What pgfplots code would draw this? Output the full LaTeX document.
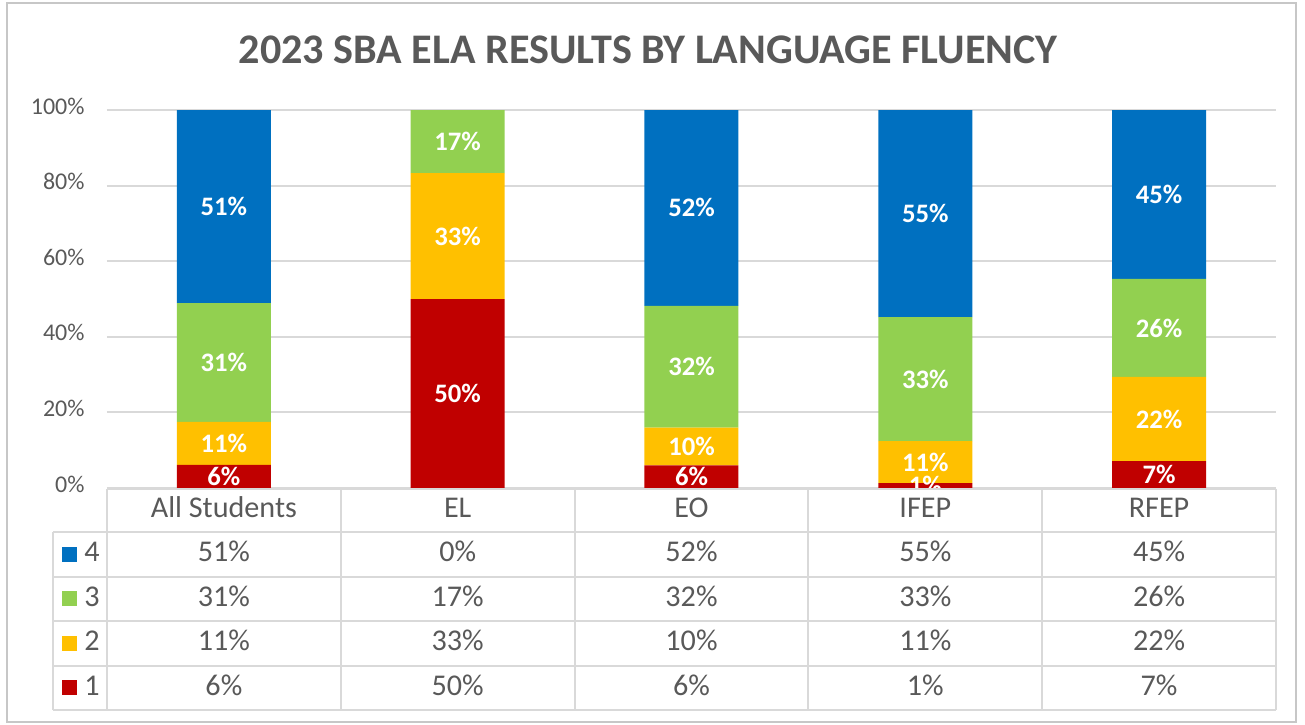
\documentclass[border=0pt]{standalone}
\usepackage{pgfplots}
\pgfplotsset{compat=1.18}
\usepackage{pgfplotstable}
\usepackage{fontspec}
\setmainfont{Carlito}
\definecolor{cBlue}{HTML}{0070C0}
\definecolor{cGreen}{HTML}{92D050}
\definecolor{cYellow}{HTML}{FFC000}
\definecolor{cRed}{HTML}{C00000}
\definecolor{txt}{HTML}{595959}
\definecolor{gridc}{HTML}{D9D9D9}

\pgfplotstableread{
x s1 s2 s3 s4
0 6.1 11.4 31.4 51.1
1 50 33.3 16.7 0
2 6 10 32.2 51.8
3 1.3 11.1 32.8 54.8
4 7.1 22.3 25.9 44.7
}\data

\begin{document}
\begin{tikzpicture}[x=0.375pt,y=-0.375pt]
\path (0,0) rectangle (1305,724);
\draw[gridc!80!gray, line width=0.75pt] (6.5,3) rectangle (1296,721.5);
\node[font=\fontsize{15.8}{18}\selectfont\bfseries, text=txt] at (648,50) {2023 SBA ELA RESULTS BY LANGUAGE FLUENCY};
\begin{axis}[
  at={(40.125pt,-183pt)}, anchor=south west,
  scale only axis, width=438.375pt, height=141.75pt,
  ybar stacked, bar width=35.25pt,
  xmin=-0.5, xmax=4.5, ymin=0, ymax=100,
  xtick={0,1,2,3,4}, xticklabels={All Students,EL,EO,IFEP,RFEP},
  ytick={0,20,40,60,80,100}, yticklabels={0\%,20\%,40\%,60\%,80\%,100\%},
  ymajorgrids, grid style={gridc, line width=0.75pt},
  axis line style={draw=none}, major tick length=0pt,
  yticklabel style={font=\fontsize{9}{10}\selectfont, text=txt, anchor=east, xshift=-4.9pt, yshift=1.5pt},
  xticklabel style={font=\fontsize{11.3}{13}\selectfont, text=txt, anchor=base, yshift=-10.9pt},
  /pgf/number format/assume math mode=true,
  point meta=rawy,
  nodes near coords={\pgfmathprintnumber[fixed,precision=0]{\pgfplotspointmeta}\%},
  every node near coord/.append style={font=\fontsize{10}{11}\selectfont\bfseries, text=white, anchor=center},
]
\addplot[fill=cRed, draw=none] table[x=x,y=s1]{\data};
\addplot[fill=cYellow, draw=none] table[x=x,y=s2]{\data};
\addplot[fill=cGreen, draw=none] table[x=x,y=s3]{\data};
\addplot[fill=cBlue, draw=none] table[x=x,y=s4]{\data};
\end{axis}
% data table
\begin{scope}[gridc, line width=0.75pt]
\draw (107,488.5) -- (1276,488.5);
\foreach \yy in {532,576.5,621,665.5,710} \draw (53,\yy) -- (1276,\yy);
\draw (53,532) -- (53,710);
\foreach \i in {0,...,5} \draw ({107+233.8*\i},488.5) -- ({107+233.8*\i},710);
\end{scope}
\fill[cBlue] (62,546.5) rectangle (77,561.5);
\fill[cGreen] (62,591) rectangle (77,606);
\fill[cYellow] (62,635.5) rectangle (77,650.5);
\fill[cRed] (62,680) rectangle (77,695);
\begin{scope}[every node/.style={font=\fontsize{11.3}{13}\selectfont, text=txt, anchor=base, inner sep=0pt}]
\node at (92,561.75) {4};
\node at (92,606.25) {3};
\node at (92,650.75) {2};
\node at (92,695.25) {1};
\foreach \v [count=\i from 0] in {51,0,52,55,45} \node at ({107+233.8*(\i+0.5)},561.75) {\v\%};
\foreach \v [count=\i from 0] in {31,17,32,33,26} \node at ({107+233.8*(\i+0.5)},606.25) {\v\%};
\foreach \v [count=\i from 0] in {11,33,10,11,22} \node at ({107+233.8*(\i+0.5)},650.75) {\v\%};
\foreach \v [count=\i from 0] in {6,50,6,1,7} \node at ({107+233.8*(\i+0.5)},695.25) {\v\%};
\end{scope}
\end{tikzpicture}
\end{document}
